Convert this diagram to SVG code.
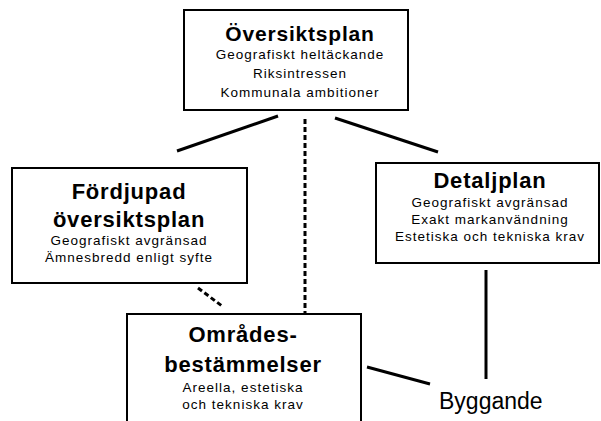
<svg xmlns="http://www.w3.org/2000/svg" width="601" height="421" viewBox="0 0 601 421">
<style>
.box{fill:#fff;stroke:#000;stroke-width:2}
.t{font-family:"Liberation Sans",Arial,sans-serif;font-weight:bold;font-size:22px;letter-spacing:0.8px;text-anchor:middle;fill:#000}
.s{font-family:"Liberation Sans",Arial,sans-serif;font-size:13.5px;letter-spacing:1px;text-anchor:middle;fill:#000}
.c{stroke:#000;stroke-width:3;fill:none}
</style>
<rect width="601" height="421" fill="#fff"/>
<g id="connectors">
<line class="c" x1="177" y1="151" x2="278" y2="116"/>
<line class="c" x1="335" y1="118" x2="438" y2="152"/>
<line class="c" x1="305" y1="119" x2="305" y2="314" stroke-dasharray="5,3"/>
<line class="c" x1="198" y1="288" x2="222" y2="306" stroke-dasharray="5,3"/>
<line class="c" x1="486" y1="270" x2="486" y2="379"/>
<line class="c" x1="367" y1="367" x2="430" y2="384"/>
</g>
<g id="oversiktsplan">
<rect class="box" x="184" y="10" width="224" height="100"/>
<text class="t" x="300" y="41" style="font-size:21px">Översiktsplan</text>
<text class="s" x="300" y="59">Geografiskt heltäckande</text>
<text class="s" x="300" y="78">Riksintressen</text>
<text class="s" x="300" y="97">Kommunala ambitioner</text>
</g>
<g id="fordjupad">
<rect class="box" x="12" y="168" width="235" height="115"/>
<text class="t" x="129" y="199">Fördjupad</text>
<text class="t" x="129" y="227">översiktsplan</text>
<text class="s" x="129" y="245">Geografiskt avgränsad</text>
<text class="s" x="129" y="262">Ämnesbredd enligt syfte</text>
</g>
<g id="detaljplan">
<rect class="box" x="376" y="163" width="223" height="100"/>
<text class="t" x="490" y="188">Detaljplan</text>
<text class="s" x="490" y="207">Geografiskt avgränsad</text>
<text class="s" x="490" y="224">Exakt markanvändning</text>
<text class="s" x="490" y="241">Estetiska och tekniska krav</text>
</g>
<g id="omradesbestammelser">
<rect class="box" x="127" y="314" width="234" height="120"/>
<text class="t" x="243" y="342">Områdes-</text>
<text class="t" x="243" y="372">bestämmelser</text>
<text class="s" x="243" y="392">Areella, estetiska</text>
<text class="s" x="243" y="409">och tekniska krav</text>
</g>
<g id="byggande">
<text x="439" y="409" font-family="'Liberation Sans',Arial,sans-serif" font-size="23" fill="#000">Byggande</text>
</g>
</svg>
